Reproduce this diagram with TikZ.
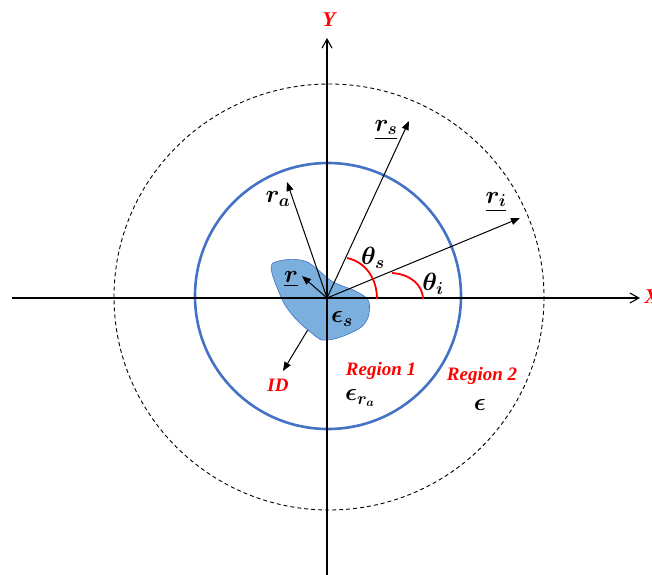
\documentclass[tikz,border=0pt]{standalone}
\usepackage{fontspec}
\setmainfont{Liberation Serif}
\usepackage{amsmath,bm}
\usetikzlibrary{arrows.meta}
\definecolor{bluec}{HTML}{4472C4}
\definecolor{blobfill}{HTML}{7BAFDE}
\begin{document}
\begin{tikzpicture}[x=1pt,y=-1pt,
  axis/.style={line width=1.1pt,-{Straight Barb[length=9pt,width=10pt,line width=1.1pt]}},
  vec/.style={line width=1pt,-{Triangle[length=9pt,width=7pt]}},
  anglearc/.style={red,line width=1.8pt},
  redlbl/.style={red,font=\fontsize{19}{22}\selectfont\bfseries\itshape},
  mlbl/.style={font=\fontsize{23}{26}\selectfont}]
\useasboundingbox (0,0) rectangle (652,574);
\coordinate (O) at (327,298);
% dashed ellipse
\draw[dashed,dash pattern=on 4pt off 3pt,line width=0.9pt] (329,297) ellipse [x radius=215,y radius=213];
% blue circle
\draw[bluec,line width=2.6pt] (328,296) circle [radius=133];
% ID arrow (under blob)
\coordinate (IDt) at (283,371);
\draw[vec] (O) -- (IDt);
% blob
\draw[bluec,line width=0.6pt,fill=blobfill] plot[smooth cycle,tension=0.55] coordinates {
 (272,264) (280,260.7) (293,259.3) (306.7,261.7) (318.3,270) (330,280) (340,285)
 (353.3,290) (365,296.7) (369.3,303.3) (368.3,316.7) (361.7,326.7) (350,333.3)
 (336.7,338.3) (326.7,340) (320,339.3) (310,331.7) (296.7,320) (285,305)
 (276.7,286.7) (271.7,272)};
% axes
\coordinate (Xs) at (12,298);
\coordinate (Xe) at (640,298);
\coordinate (Ys) at (327,576);
\coordinate (Ye) at (327,38);
\draw[axis] (Xs) -- (Xe);
\draw[axis] (Ys) -- (Ye);
% vectors
\coordinate (Ra) at (287,182);
\coordinate (Rs) at (409,121);
\coordinate (Ri) at (520,218);
\coordinate (Rr) at (302,276);
\draw[vec] (O) -- (Ra);
\draw[vec] (O) -- (Rs);
\draw[vec] (O) -- (Ri);
\draw[vec] (O) -- (Rr);
% angle arcs
\draw[anglearc] (347,258) .. controls (366,262) and (377,279) .. (377,299);
\draw[anglearc] (392,273) .. controls (410,274) and (423,285) .. (423,299);
% labels
\node[redlbl,font=\fontsize{21}{24}\selectfont\bfseries\itshape] (Ylbl) at (329,20) {Y};
\node[redlbl,font=\fontsize{21}{24}\selectfont\bfseries\itshape,anchor=west] (Xlbl) at (641,297) {X};
\node[mlbl] (ra) at (278,199) {$\bm{r_a}$};
\node[mlbl] (rs) at (386,130) {$\underline{\bm{r_s}}$};
\node[mlbl] (ri) at (496,202) {$\underline{\bm{r_i}}$};
\node[mlbl] (ths) at (373,258) {$\bm{\theta_s}$};
\node[mlbl] (thi) at (433,284) {$\bm{\theta_i}$};
\node[mlbl] (rr) at (291,279) {$\underline{\bm{r}}$};
\node[mlbl,font=\fontsize{26}{28}\selectfont] (es) at (342,319) {$\bm{\epsilon_s}$};
\node[redlbl] (ID) at (278,385) {ID};
\node[redlbl] (R1) at (381,371) {Region 1};
\node[redlbl] (R2) at (482,376) {Region 2};
\node[mlbl,font=\fontsize{26}{28}\selectfont] (era) at (360,398) {$\bm{\epsilon_{r_a}}$};
\node[mlbl,font=\fontsize{26}{28}\selectfont] (eps) at (480,405) {$\bm{\epsilon}$};
\end{tikzpicture}
\end{document}
